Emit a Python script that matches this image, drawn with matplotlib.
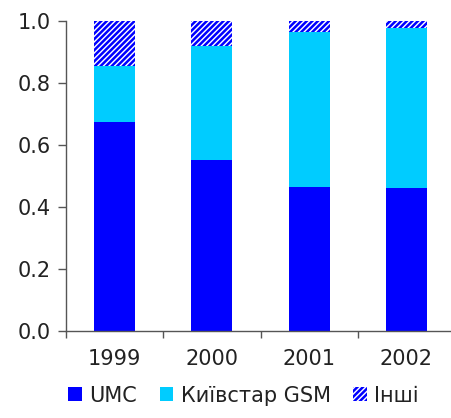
import matplotlib
matplotlib.use("Agg")
import matplotlib.pyplot as plt
import numpy as np

years = ["1999", "2000", "2001", "2002"]
umc = [0.674, 0.552, 0.465, 0.461]
kyivstar = [0.181, 0.367, 0.500, 0.516]
others = [0.145, 0.081, 0.035, 0.023]

plt.rcParams['font.family'] = ['DejaVu Sans']
plt.rcParams['hatch.linewidth'] = 1.8
plt.rcParams['hatch.color'] = '#0000FF'

fig = plt.figure(figsize=(4.51, 4.18), dpi=100)
W, H = 451, 418
left, right, top, bottom = 66, 455, 21, 331
ax = fig.add_axes([left / W, (H - bottom) / H, (right - left) / W, (bottom - top) / H])

x = np.arange(len(years))
bw = 0.42
b1 = ax.bar(x, umc, bw, color='#0000FF', linewidth=0, label='UMC')
b2 = ax.bar(x, kyivstar, bw, bottom=umc, color='#00CCFF', linewidth=0, label='Київстар GSM')
bot2 = [a + b for a, b in zip(umc, kyivstar)]
b3 = ax.bar(x, others, bw, bottom=bot2, color='white', edgecolor='#0000FF',
            hatch='//////', linewidth=0, label='Інші')

ax.set_xlim(-0.5, len(years) - 0.5)
ax.set_ylim(0, 1.0)
ax.set_yticks(np.arange(0, 1.01, 0.2))
ax.set_yticklabels([f"{v:.1f}" for v in np.arange(0, 1.01, 0.2)])
ax.set_xticks(x)
ax.set_xticklabels(years)
ax.set_xticks(np.arange(-0.5, len(years), 1.0), minor=True)
ax.tick_params(axis='x', which='major', length=0, pad=13, labelsize=15, colors='#222222')
ax.tick_params(axis='x', which='minor', length=5, width=1, color='#555555')
ax.tick_params(axis='y', length=6, width=1, color='#555555', pad=5, labelsize=15, labelcolor='#222222')

for s in ['top', 'right']:
    ax.spines[s].set_visible(False)
for s in ['left', 'bottom']:
    ax.spines[s].set_color('#555555')
    ax.spines[s].set_linewidth(1)

fig.legend(handles=[b1, b2, b3], loc='lower center', bbox_to_anchor=(0.54, -0.015),
           ncol=3, frameon=False, fontsize=15, handlelength=0.65, handleheight=0.65,
           handletextpad=0.35, columnspacing=1.1, labelcolor='#222222')

fig.savefig("out.png", dpi=100)
